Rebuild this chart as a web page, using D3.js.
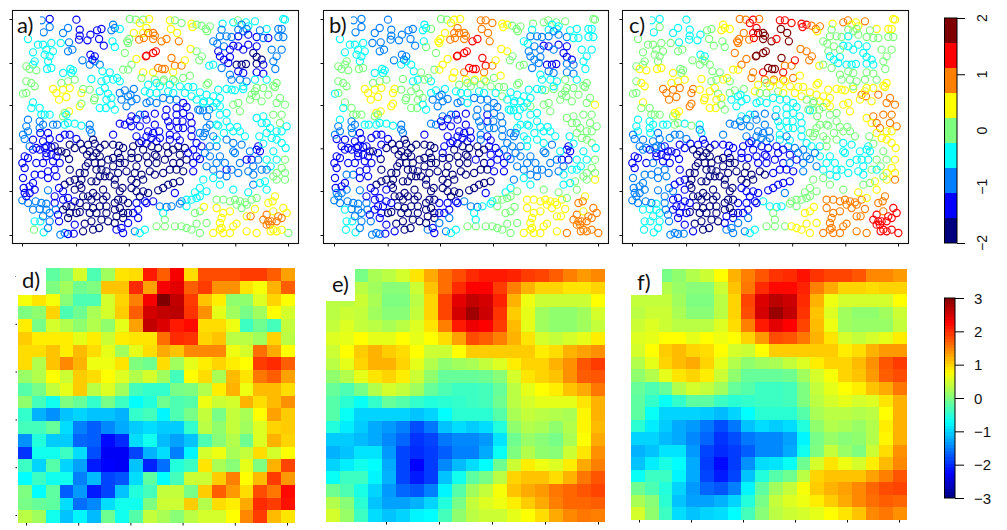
<!DOCTYPE html>
<html><head><meta charset="utf-8"><script src="https://cdn.jsdelivr.net/npm/d3@7"></script>
<style>html,body{margin:0;padding:0;background:#fff}svg{display:block}</style></head><body>
<svg id="c" width="1007" height="530"></svg>
<script>
// Sites: [easting, northing, a, b, c] where a,b,c are colour-class numbers -4..4
const bandTop=[[126,62,-2,-2,-1],[150,58,-3,-2,-1],[132,98,-2,-2,-1],[150,82,-2,-2,0],[85,118,-1,-1,0],[190,100,-2,-2,-1],[205,85,-2,-2,-1],[230,60,-3,-2,-1],[240,90,-3,-2,-1],[240,108,-3,-2,-1],[238,120,-3,-2,-1],[263,122,-3,-2,-1],[272,105,-3,-2,-1],[292,92,-3,-2,0],[305,88,-3,-2,0],[298,118,-3,-2,0],[312,138,-3,-2,0],[340,75,-2,-1,1],[335,92,-2,-1,1],[345,85,-2,-1,1],[360,88,-1,0,1],[338,125,-1,-1,0],[345,142,-1,0,0],[390,58,0,0,2],[408,60,0,0,2],[420,70,1,1,3],[430,60,0,1,3],[448,58,1,1,2],[440,85,1,2,3],[430,100,1,2,3],[402,100,1,1,2],[445,100,2,2,4],[460,100,2,2,4],[465,108,2,2,4],[418,120,2,2,2],[432,115,2,2,3],[382,125,0,1,2],[388,118,0,1,2],[460,118,2,2,4],[485,125,2,3,4],[500,118,2,3,3],[510,62,1,2,3],[525,62,0,2,3],[545,70,0,2,3],[513,88,1,2,4],[532,100,1,2,4],[537,125,2,2,4],[575,72,1,1,3],[578,82,1,1,3],[590,75,0,1,3],[605,78,0,0,2],[618,88,0,0,2],[630,80,0,0,2],[622,95,0,0,1],[668,72,-1,0,1],[700,68,-1,0,2],[714,62,0,0,2],[738,68,-1,0,1],[745,80,-1,-1,1],[765,65,-1,0,2],[725,75,-2,-1,1],[740,88,-2,-1,0],[715,90,-2,-1,0],[730,95,-2,-2,0],[665,90,-2,-1,0],[660,110,-2,-2,0],[680,110,-2,-2,0],[695,112,-2,-2,0],[715,110,-3,-2,-1],[745,105,-3,-2,0],[770,112,-3,-2,0],[790,115,-2,-1,0],[805,115,-3,-1,0],[835,88,-2,-1,1],[845,88,-2,-1,1],[855,60,-1,0,1],[850,58,-1,0,1],[800,88,-1,-1,1],[780,92,-2,-1,0],[835,112,-2,-1,0],[850,112,-2,-1,0]];
const bandUpper=[[115,135,-1,-1,0],[130,135,-1,-1,0],[100,158,-1,-1,0],[140,150,-1,-1,0],[155,130,-1,-1,0],[160,155,-1,-1,0],[135,165,-1,-1,0],[150,170,-1,-1,0],[145,185,-1,-1,0],[105,185,-1,0,0],[100,195,-1,0,0],[155,205,-1,0,1],[142,208,-1,0,1],[80,200,0,0,0],[90,208,0,0,1],[110,212,0,0,1],[183,130,-1,-2,0],[208,128,-2,-2,-1],[205,155,-2,-2,0],[218,150,-2,-2,0],[248,182,-2,-2,0],[270,195,-2,-1,0],[285,185,-2,-1,0],[272,165,-3,-2,-1],[285,170,-3,-2,-1],[278,180,-3,-2,0],[300,195,-2,-1,0],[308,215,-1,-1,0],[190,220,-1,-1,1],[212,208,-1,-1,0],[220,212,-1,-1,0],[215,220,-1,-1,0],[275,238,-1,0,1],[305,245,-1,-1,0],[320,240,-1,-1,0],[340,240,-1,0,1],[352,235,-1,0,1],[360,245,-1,-1,0],[330,218,-1,0,0],[370,210,0,0,1],[385,210,0,1,1],[375,160,0,0,2],[385,130,0,1,2],[395,195,0,1,2],[410,178,1,1,2],[440,168,3,3,4],[438,170,3,3,4],[460,160,3,3,4],[468,155,3,3,4],[430,218,1,1,2],[460,218,1,2,3],[475,205,2,3,4],[487,208,2,3,4],[495,208,2,3,4],[515,175,2,3,4],[525,198,2,3,2],[545,198,2,2,2],[520,218,1,2,3],[555,182,1,1,3],[425,235,0,1,2],[465,240,0,1,2],[492,240,0,1,2],[520,240,0,1,2],[572,148,1,1,2],[590,155,0,1,2],[606,170,0,0,2],[598,182,0,0,2],[628,198,-1,0,1],[640,195,-1,0,0],[640,125,-2,-1,0],[652,132,-2,-1,0],[655,155,-3,-2,0],[672,140,-2,-2,0],[672,180,-3,-2,-1],[690,172,-3,-2,-1],[685,190,-3,-2,-1],[665,205,-2,-2,0],[710,195,-4,-3,-1],[725,195,-4,-3,-1],[738,193,-4,-3,-1],[760,160,-4,-3,-1],[770,172,-4,-3,-1],[785,180,-4,-3,-1],[770,192,-4,-2,-1],[790,195,-3,-2,-1],[826,208,-2,-1,0],[715,140,-3,-3,-1],[745,135,-3,-3,-1],[730,150,-3,-2,-1],[700,138,-3,-3,-1],[690,225,-2,-1,0],[695,240,-2,-1,0],[740,245,-2,-1,0],[715,215,-3,-2,0],[730,220,-3,-2,0],[815,150,-2,-1,0],[845,150,-2,-1,0],[830,170,-2,-1,0],[820,185,-2,-1,0],[770,218,-3,-2,0],[790,222,-3,-2,0],[765,240,-1,0,0],[830,250,0,0,1]];
const bandMiddle=[[80,245,0,0,0],[95,250,0,0,1],[105,260,0,0,1],[70,282,0,-1,0],[80,280,0,0,0],[100,308,-1,0,1],[95,325,-1,-1,0],[120,325,-1,0,0],[125,345,-1,0,0],[160,268,1,1,2],[185,250,0,0,1],[205,245,0,0,1],[225,240,0,0,1],[170,280,1,1,2],[190,270,1,1,2],[210,265,1,1,2],[178,300,1,1,2],[200,292,1,1,2],[245,280,1,1,2],[250,268,0,1,2],[270,270,0,0,1],[285,295,0,0,1],[283,302,0,0,1],[240,320,1,1,2],[245,312,0,1,2],[208,335,1,1,1],[195,340,0,1,1],[300,275,-1,0,1],[315,265,-1,0,1],[325,282,-1,0,0],[335,295,-1,0,1],[320,300,-1,0,1],[300,325,-1,0,1],[318,325,-1,0,1],[335,315,-1,-1,0],[345,330,-1,-1,0],[360,280,-2,-1,0],[375,272,-2,-1,0],[402,268,-2,-1,0],[385,290,-2,-2,-1],[365,300,-2,-2,-1],[380,320,-2,-2,-1],[395,305,-2,-2,-1],[410,298,-2,-2,-1],[392,285,-2,-2,-1],[435,275,-1,-1,1],[445,255,-1,0,1],[470,250,-1,0,0],[490,245,0,0,1],[525,245,0,0,1],[550,235,0,0,2],[570,228,0,1,1],[540,260,-1,0,1],[565,262,-1,0,1],[580,262,-1,0,1],[450,280,-1,-1,0],[470,280,-1,-1,0],[505,275,-1,-1,0],[520,280,-1,-1,1],[555,280,-1,-1,1],[575,290,-1,0,1],[490,295,-2,-2,-1],[510,300,-2,-2,-1],[530,300,-2,-2,-1],[550,310,-3,-2,-1],[560,322,-3,-2,-1],[450,305,-2,-2,-1],[470,310,-2,-1,-1],[440,310,-2,-2,-1],[620,255,0,0,1],[625,250,0,0,1],[600,278,-1,-1,1],[620,285,-1,-1,1],[640,290,-1,-1,1],[612,305,-1,-1,0],[630,305,-1,-1,1],[650,310,-1,-1,1],[640,322,-1,-1,0],[595,330,-2,-1,0],[610,332,-2,-1,0],[628,330,-2,-1,0],[660,295,-1,-1,1],[680,268,-1,-1,1],[705,272,-1,0,1],[730,268,-1,0,1],[755,285,0,0,2],[765,275,0,0,1],[768,290,0,0,2],[790,265,0,0,1],[805,285,0,0,2],[820,258,0,0,1],[825,262,0,0,1],[840,295,0,0,2],[855,315,0,1,2],[830,310,0,0,2],[785,305,0,0,1],[700,315,0,0,1],[715,310,0,0,1],[660,320,-1,0,1],[750,300,0,0,1],[680,340,-1,-1,0],[720,335,0,0,1]];
const bandLower=[[85,360,-2,-1,-1],[80,380,-2,-2,-1],[85,395,-2,-2,-1],[120,365,-2,-2,-1],[120,385,-2,-2,-1],[122,400,-3,-2,-1],[135,345,-1,0,0],[150,345,-1,0,0],[160,375,-2,-1,-1],[172,375,-2,-1,-1],[190,350,0,0,0],[200,345,-1,0,1],[205,370,-1,-1,0],[195,375,-1,-1,0],[225,372,-1,-1,-1],[245,378,-1,-1,0],[270,375,-2,-2,-1],[275,400,-2,-2,-1],[270,390,-2,-2,-2],[340,405,-3,-3,-2],[75,418,-2,-3,-2],[70,405,-2,-2,-2],[100,450,-3,-3,-2],[110,445,-3,-3,-2],[130,425,-3,-3,-2],[150,418,-3,-3,-2],[155,442,-3,-3,-2],[175,455,-4,-4,-3],[185,455,-4,-4,-3],[195,405,-3,-3,-2],[210,405,-3,-3,-2],[180,415,-3,-3,-2],[230,418,-3,-3,-2],[210,435,-4,-3,-3],[165,440,-4,-3,-3],[140,460,-3,-3,-3],[242,432,-4,-4,-3],[265,435,-4,-4,-3],[280,420,-4,-4,-3],[285,432,-4,-4,-3],[300,445,-4,-4,-4],[270,455,-4,-4,-4],[290,460,-4,-4,-4],[340,435,-4,-4,-3],[358,438,-4,-4,-3],[355,460,-4,-4,-3],[370,445,-4,-4,-3],[400,440,-4,-3,-3],[418,430,-4,-3,-3],[395,460,-4,-3,-3],[440,432,-3,-3,-2],[360,372,-3,-2,-2],[375,375,-3,-2,-2],[395,350,-3,-2,-1],[410,358,-3,-3,-2],[395,380,-3,-3,-2],[390,365,-3,-3,-2],[435,345,-3,-3,-2],[465,342,-3,-3,-2],[497,350,-3,-2,-2],[445,395,-3,-3,-2],[460,400,-3,-3,-2],[478,395,-3,-3,-2],[470,425,-3,-3,-2],[455,415,-3,-3,-2],[480,415,-3,-3,-2],[410,410,-3,-3,-2],[425,425,-3,-3,-3],[440,410,-3,-3,-2],[455,440,-4,-4,-3],[475,445,-4,-4,-3],[505,365,-3,-2,-1],[510,380,-3,-2,-1],[510,405,-3,-2,-1],[510,420,-3,-2,-1],[530,345,-3,-3,-1],[530,365,-3,-3,-1],[550,340,-3,-2,-1],[570,350,-3,-2,-1],[575,370,-3,-2,-1],[550,385,-3,-2,-1],[535,385,-3,-2,-1],[548,365,-3,-2,-1],[575,390,-3,-2,-1],[575,410,-3,-2,-1],[535,440,-4,-3,-2],[555,445,-4,-3,-2],[540,422,-3,-3,-1],[520,450,-4,-4,-3],[600,332,-2,-1,-1],[622,350,-2,-1,0],[630,375,-2,-1,0],[620,385,-2,-1,0],[615,400,-2,-2,0],[610,410,-2,-2,0],[600,400,-2,-2,0],[590,430,-3,-2,-1],[605,440,-3,-2,-1],[630,440,-2,-2,-1],[650,440,-2,-1,0],[650,420,-1,-1,0],[655,378,-1,-1,0],[680,365,-1,-1,0],[690,382,-1,-1,0],[712,382,-1,-1,0],[700,395,-1,-1,0],[660,345,-1,-1,0],[720,395,-1,-1,0],[770,355,-1,0,1],[790,350,-1,0,2],[785,370,-1,0,1],[820,345,0,0,2],[845,345,0,0,2],[800,370,-1,0,2],[810,385,-1,0,2],[840,370,0,0,2],[860,380,-1,0,2],[830,395,-1,0,1],[815,415,-1,0,1],[778,410,-1,-1,0],[830,420,-1,0,1],[845,430,-1,0,1],[857,445,-1,-1,1],[725,435,-2,-2,-1],[770,450,-3,-3,-1],[780,455,-3,-3,-1],[750,455,-2,-1,-1],[820,455,-1,-1,0],[700,455,-2,-2,-1]];
const bandDeep=[[68,490,-3,-3,-3],[75,505,-3,-3,-3],[85,475,-3,-3,-3],[105,525,-3,-2,-2],[125,525,-3,-2,-2],[70,535,-3,-3,-2],[145,515,-3,-3,-2],[165,510,-3,-3,-2],[145,535,-3,-3,-2],[110,490,-3,-3,-3],[130,490,-3,-3,-2],[160,485,-3,-3,-3],[140,470,-3,-3,-3],[72,565,-3,-3,-2],[75,580,-3,-2,-2],[90,580,-3,-2,-2],[105,570,-3,-2,-2],[145,572,-2,-2,-2],[178,565,-3,-3,-2],[190,575,-3,-3,-2],[208,478,-4,-4,-3],[210,545,-4,-4,-3],[195,555,-4,-4,-3],[240,555,-4,-4,-4],[245,565,-4,-4,-4],[258,500,-4,-4,-4],[262,465,-4,-4,-4],[255,520,-4,-4,-4],[280,470,-4,-4,-4],[300,470,-4,-4,-4],[290,510,-4,-4,-4],[305,510,-4,-4,-4],[320,515,-4,-4,-4],[300,530,-4,-4,-4],[315,530,-4,-4,-4],[275,545,-4,-4,-4],[290,545,-4,-4,-4],[280,580,-4,-4,-4],[290,590,-4,-4,-4],[310,570,-4,-4,-4],[340,475,-4,-4,-4],[360,490,-4,-4,-4],[375,490,-4,-4,-4],[360,475,-4,-4,-4],[340,500,-4,-4,-4],[345,540,-4,-4,-4],[368,565,-4,-4,-4],[360,575,-4,-4,-4],[380,515,-4,-4,-4],[395,475,-4,-4,-3],[415,475,-4,-4,-3],[440,470,-4,-4,-3],[465,465,-4,-4,-3],[395,540,-4,-4,-4],[425,525,-4,-4,-4],[430,540,-4,-4,-4],[450,515,-4,-4,-4],[465,525,-4,-4,-4],[410,575,-4,-4,-3],[430,575,-4,-4,-3],[445,580,-4,-4,-3],[475,572,-4,-4,-3],[490,565,-4,-4,-3],[505,555,-4,-4,-3],[520,550,-4,-4,-3],[540,545,-4,-4,-3],[510,510,-4,-4,-3],[520,490,-4,-4,-3],[540,490,-4,-3,-2],[530,510,-4,-4,-3],[495,480,-4,-3,-3],[550,515,-4,-3,-3],[525,580,-3,-3,-2],[580,490,-3,-3,-2],[590,470,-3,-3,-2],[600,478,-3,-2,-2],[580,515,-3,-3,-2],[620,500,-2,-2,-2],[630,470,-2,-2,-1],[640,510,-2,-2,-1],[660,525,-2,-2,-1],[680,510,-3,-2,-1],[680,530,-2,-2,-1],[705,460,-2,-2,-1],[720,490,-2,-2,-1],[745,515,-2,-2,-1],[760,525,-2,-1,-1],[785,510,-2,-1,0],[755,480,-3,-3,-1],[775,480,-2,-3,-1],[800,480,-1,-1,0],[812,500,-1,-1,0],[855,480,0,0,1],[830,520,0,0,1],[855,520,0,0,1],[830,540,0,0,1],[855,540,0,1,2],[795,545,-1,0,1],[760,555,-2,-1,0],[780,550,-1,-1,0],[610,540,-1,-2,0],[640,535,-1,-1,0],[660,555,-1,-1,0],[600,565,-1,-1,0],[620,575,-1,0,0],[585,578,-1,-1,0],[700,570,-1,0,0],[745,578,-1,0,1],[800,570,-1,0,1]];
const bandBottom=[[68,602,-2,-2,-2],[85,610,-2,-2,-2],[108,605,-2,-2,-2],[120,628,-2,-2,-1],[140,612,-2,-2,-1],[150,640,-2,-2,-1],[165,610,-3,-2,-2],[168,630,-2,-2,-2],[105,665,-1,-1,-1],[122,665,-1,-1,-1],[103,690,0,-1,-1],[132,698,-1,-1,-1],[145,685,-2,-2,-1],[150,665,-2,-2,-1],[178,665,-3,-2,-2],[182,705,-2,-2,-2],[195,700,-2,-2,-2],[205,703,-3,-2,-2],[222,702,-3,-3,-2],[200,620,-4,-3,-3],[210,640,-4,-3,-3],[205,655,-4,-3,-3],[225,605,-3,-3,-3],[240,637,-4,-4,-4],[255,672,-4,-4,-4],[275,665,-4,-4,-4],[270,640,-4,-4,-4],[298,685,-4,-4,-4],[290,640,-4,-4,-4],[310,600,-4,-4,-4],[305,660,-4,-4,-4],[320,640,-4,-4,-4],[345,610,-4,-4,-4],[345,630,-4,-4,-4],[360,625,-4,-4,-4],[370,640,-4,-4,-4],[350,650,-4,-4,-3],[370,655,-4,-4,-3],[410,610,-3,-3,-3],[385,610,-4,-3,-3],[400,640,-3,-3,-3],[415,655,-3,-2,-2],[435,605,-3,-3,-3],[350,690,-3,-2,-2],[370,700,-3,-3,-2],[365,685,-3,-3,-2],[405,695,-2,-2,-2],[435,690,-1,-1,-1],[420,700,-1,-1,-1],[460,605,-3,-2,-1],[480,620,-2,-2,-1],[500,622,-2,-2,-1],[515,620,-2,-1,-1],[490,640,-1,-1,0],[495,660,0,-1,0],[470,680,0,0,0],[495,680,0,0,0],[525,680,0,0,0],[545,680,0,0,1],[575,690,0,0,1],[600,700,0,0,1],[620,670,0,0,1],[540,612,-2,-1,0],[560,620,-1,0,0],[575,600,-1,0,0],[590,595,-1,0,0],[585,640,0,0,1],[600,635,0,0,1],[612,622,1,0,1],[660,690,1,1,2],[665,685,1,1,2],[690,700,1,1,2],[710,672,1,1,2],[650,625,1,1,2],[665,655,1,1,2],[690,635,1,1,2],[670,600,0,1,2],[705,600,0,1,2],[720,605,0,1,2],[735,608,0,1,2],[755,600,0,1,2],[770,595,0,0,1],[725,625,0,1,2],[740,650,1,1,2],[752,650,2,1,2],[765,628,1,1,2],[740,695,1,1,2],[770,700,1,2,2],[825,590,1,1,2],[818,605,1,2,2],[850,625,1,2,3],[860,640,1,2,3],[800,645,2,2,3],[820,635,1,1,2],[805,665,2,2,3],[815,665,2,2,3],[830,665,2,2,3],[845,655,2,2,3],[810,675,2,2,3],[820,690,1,2,3],[865,700,0,2,3],[830,695,1,2,3],[812,695,1,2,3]];
// Further sites read from the densest clusters
const bandDenseWest=[[140,440,-3,-3,-2],[120,450,-3,-3,-3],[135,445,-3,-3,-2],[90,440,-2,-3,-2],[75,470,-3,-3,-3],[170,470,-3,-3,-3],[155,465,-3,-3,-3],[180,490,-3,-3,-3],[170,530,-3,-3,-2],[210,510,-4,-4,-3],[225,540,-4,-4,-3],[240,520,-4,-4,-4],[265,490,-4,-4,-4],[285,490,-4,-4,-4],[305,490,-4,-4,-4],[325,480,-4,-4,-4],[330,530,-4,-4,-4],[345,555,-4,-4,-4],[355,520,-4,-4,-4],[355,600,-4,-4,-4],[370,600,-4,-4,-4],[320,590,-4,-4,-4],[265,590,-4,-4,-4],[275,600,-4,-4,-4],[260,620,-4,-4,-4],[300,620,-4,-4,-4],[320,620,-4,-4,-4],[280,625,-4,-4,-4],[240,610,-4,-3,-3],[250,590,-4,-4,-4],[225,570,-4,-3,-3],[245,540,-4,-4,-4],[345,670,-4,-4,-3],[325,665,-4,-4,-4],[280,690,-4,-4,-4],[250,695,-4,-3,-3],[225,675,-3,-3,-3],[230,640,-4,-4,-3],[215,620,-4,-3,-3],[190,630,-4,-3,-3],[175,645,-3,-3,-2],[190,600,-3,-3,-3],[165,590,-3,-3,-2],[205,595,-3,-3,-3],[140,630,-2,-2,-1],[130,650,-2,-2,-1],[125,610,-2,-2,-2],[100,630,-2,-1,-1],[80,590,-3,-2,-2],[90,560,-3,-3,-2],[100,550,-3,-3,-2],[145,400,-3,-3,-2],[130,375,-2,-2,-1],[100,420,-3,-3,-2],[200,460,-4,-3,-3],[225,445,-4,-4,-3],[250,450,-4,-4,-4],[315,435,-4,-4,-3]];
const bandDenseEast=[[405,520,-4,-4,-4],[410,550,-4,-4,-4],[395,565,-4,-4,-3],[420,590,-4,-4,-3],[440,610,-3,-3,-3],[415,630,-3,-3,-3],[385,640,-4,-3,-3],[385,670,-3,-2,-2],[470,490,-4,-4,-3],[490,520,-4,-4,-3],[410,500,-4,-4,-4],[445,490,-4,-4,-3],[430,450,-4,-4,-3],[470,470,-4,-4,-3],[500,440,-4,-4,-3],[505,460,-4,-4,-3],[560,480,-4,-3,-3],[565,460,-3,-3,-2],[580,450,-3,-2,-2],[540,465,-4,-3,-3],[615,460,-2,-2,-2],[660,470,-2,-2,-1],[675,490,-2,-2,-1],[650,490,-2,-2,-1],[695,510,-2,-2,-1],[715,520,-2,-2,-1],[740,480,-3,-2,-1],[760,500,-2,-2,-1],[775,440,-3,-3,-1],[800,510,-2,-1,-1],[830,480,-1,-1,0],[820,530,0,0,0],[845,505,0,0,1],[650,375,-1,-1,0],[672,400,-1,-1,0],[640,410,-2,-1,0],[680,420,-2,-1,0],[700,430,-2,-1,-1],[735,410,-1,-1,0],[800,400,-1,0,1],[845,395,-1,0,1],[790,432,-1,-1,0],[530,325,-3,-2,-1],[500,330,-3,-2,-1],[530,410,-3,-3,-2],[420,380,-3,-3,-2],[440,360,-3,-3,-2],[465,375,-3,-3,-2],[420,345,-2,-2,-1],[770,140,-3,-3,-1],[690,150,-3,-2,0],[660,170,-3,-2,-1],[720,240,-2,-1,0],[730,260,-1,-1,0],[770,265,0,0,1],[800,240,-1,-1,0],[695,270,-1,-1,1],[655,270,-1,-1,1],[610,310,-1,-1,0],[590,300,-1,-1,0],[480,260,-1,0,1],[510,255,-1,0,1],[545,605,-2,-1,0],[560,600,-1,0,0],[600,590,-1,0,0],[650,600,0,1,2],[690,605,0,1,2],[740,615,0,1,2],[710,615,0,1,2],[670,640,1,1,2],[660,670,1,1,2],[700,680,1,1,2],[560,685,0,0,1],[590,672,0,0,1],[640,700,1,1,2],[670,700,1,1,2],[805,610,1,2,2],[835,650,2,2,3],[790,660,2,2,3],[845,690,1,2,3],[800,675,2,2,3]];

const heatD=[
[.3,.3,-.2,0,.5,-.3,.2,.9,.95,2.1,1.7,2.3,.95,1.8,1.8,1.8,1.9,1.9,1.7,1.3],
[.3,.3,0,.2,-.1,0,1.1,1.1,2,1.3,2.3,2.4,1.7,1.9,1.4,1.4,.9,.7,1.2,1.7],
[.7,.9,.7,.05,-.3,-.3,.5,1,1.5,2.3,3,2.6,1.9,1.1,.85,.1,.1,.55,1,.75],
[0,.1,1,-.3,-.1,.25,.5,1.05,1.7,2.5,2.6,2.65,1.95,1.4,.6,.2,-.05,.2,.75,.5],
[.85,-.05,.5,.3,.1,.3,.1,.6,1.3,2.6,2.45,2.1,2.2,.95,.95,.65,-.4,-.1,-.35,.4],
[1.05,.85,.85,.85,.6,.85,.45,.85,.9,.9,1.6,2,1.95,1,1.1,.35,.35,.2,1,.35],
[.95,.95,1.1,.85,1.15,.95,.6,.2,.6,.95,1.25,1.1,1.45,1.45,1.45,.65,.5,1.6,1.25,.75],
[.95,.3,1.1,1.45,1.2,.65,.65,.9,0,-.1,.95,.2,.6,.85,1,.85,.75,1.9,2,1.7],
[.15,.3,.75,.45,1.05,.95,.75,.55,.3,.5,.2,-.35,.75,.95,.25,1.15,.9,1.55,1.7,1.3],
[-.25,-.05,.4,.6,1.05,.35,.55,.2,-.35,-.45,-.45,-.05,0,.3,.85,1.2,.65,1.15,1.15,.95],
[.1,-.35,-.65,0,-.15,-.45,-.05,-.4,-.75,-.55,-.1,-.3,-.25,.65,.45,.5,1.2,.95,1.15,1.4],
[-.45,-1.2,-1.4,-1.1,-1,-1.1,-1.1,-1.2,-.45,-.35,-.8,-.3,-.05,.4,-.05,.4,.25,.75,1.3,1.05],
[-.35,-.35,-.15,-.95,-1.5,-1.7,-1.45,-1.25,-1.05,-.95,-1.05,-1.05,-.45,.35,.1,.4,.2,.55,1,1.05],
[-1.4,-.55,-1.05,-1.05,-1.65,-1.7,-2.2,-2,-.95,-.65,-1.15,-1.3,-1.1,-.3,.05,.3,-.1,.55,1.2,1],
[-1.95,-.65,-.65,-.4,-.95,-1.8,-2.3,-2.3,-1.85,-1.2,-.95,-1.5,-.8,.5,.65,.25,.4,.95,.5,.75],
[-.4,-1,-.25,-1,-1.3,-2.1,-2.25,-2.3,-1.1,-2.05,-1.6,-.55,-.4,.9,.25,.05,.6,0,1.2,1.85],
[-.75,-.4,-.65,-.65,-1.5,-1.15,-1.85,-1.75,-.95,-.2,-.75,-.35,.45,.45,1.05,1.5,.75,1.15,1.9,1.35],
[0,-.75,-.2,-1.7,-1.35,-2.1,-1.85,-1.1,-.55,-.35,.4,.4,-.05,1.05,1.7,1.35,.95,1.8,1.55,2.2],
[-.05,-.15,-.2,-.95,-1.6,-1.45,-.95,-.65,-.65,0,.45,.45,1.05,.3,.95,.85,1.25,2,1.9,2.15],
[.35,.2,-.65,-1.1,-.8,-1.15,-.1,-.65,-.25,.4,.25,.05,.35,.5,.5,.75,1.45,1.9,1.15,.9]];
const heatE=[
[0,0,-.05,.25,.35,.5,.9,1.25,1.6,1.8,2,2.1,2.1,2.05,1.9,1.85,1.7,1.5,1.35,1.45],
[.2,.2,.35,.2,.05,.05,.45,1.1,1.6,2,2.25,2.25,1.9,1.5,1.2,1,1,.9,.9,1],
[.35,.35,.45,.25,0,0,.35,1,1.85,2.4,2.6,2.5,2.05,1.2,.65,.45,.45,.45,.45,.75],
[.35,.45,.4,.2,.05,.05,.4,1,1.85,2.5,2.8,2.55,1.95,1.05,.6,.2,.1,.1,.2,.5],
[.4,.55,.4,.35,.25,.35,.55,.9,1.5,2.1,2.35,2.25,1.9,1.15,.6,.2,.1,.1,.2,.4],
[.55,.6,.75,.6,.6,.75,.6,.75,.95,1.3,1.8,1.7,1.5,1.2,.9,.5,.4,.5,.6,.85],
[.45,.75,1.05,1.2,1.05,.95,.75,.45,.45,.75,1.05,1.05,1.05,1.05,1.05,.85,.95,1.2,1.3,1.4],
[.35,.6,1,1.2,1.2,1,.6,.3,.1,.2,.25,.4,.55,.85,1,1,1.2,1.4,1.75,1.9],
[.1,.3,.6,.9,1,.85,.45,.1,-.15,-.15,-.15,-.1,.05,.5,.9,1,1.1,1.4,1.7,1.75],
[-.15,-.3,-.05,.3,.5,.4,.2,-.15,-.3,-.4,-.4,-.35,-.15,.35,.6,.75,.85,1.1,1.25,1.55],
[-.25,-.5,-.7,-.45,-.15,-.25,-.45,-.55,-.5,-.45,-.4,-.35,-.1,.35,.5,.6,.6,.6,.9,1.2],
[-.25,-.7,-1,-1,-1,-1,-1.1,-1,-.75,-.5,-.5,-.5,-.25,.25,.4,.35,.3,.25,.8,1.2],
[-.55,-.85,-1.05,-1.25,-1.35,-1.5,-1.8,-1.55,-1.1,-.95,-1.05,-.95,-.55,.1,.3,.25,.1,.3,.8,1.15],
[-1.05,-1.05,-1.15,-1.25,-1.45,-1.65,-1.95,-1.85,-1.55,-1.45,-1.45,-1.35,-.9,-.1,.15,.05,-.05,.25,.75,1.25],
[-1.2,-1.1,-.9,-.9,-1.35,-1.85,-2,-1.9,-1.7,-1.5,-1.5,-1.25,-.7,0,.3,.1,.05,.45,.9,1.4],
[-1,-.85,-.65,-.75,-1.25,-1.85,-2.25,-1.9,-1.45,-1.15,-.95,-.75,-.1,.45,.85,.65,.55,.85,1.25,1.5],
[-.7,-.4,-.4,-.8,-1.2,-1.85,-2.1,-1.9,-1.1,-.65,-.2,-.05,.35,1,1.1,1.1,.95,1.2,1.55,1.75],
[-.1,-.3,-.6,-1,-1.35,-1.65,-1.75,-1.5,-.8,-.25,.2,.4,.7,1.1,1.25,1.35,1.55,1.65,1.75,1.85],
[.3,.05,-.5,-1.1,-1.3,-1.3,-1.2,-1,-.55,-.05,.4,.55,.65,.85,1.05,1.25,1.5,1.65,1.65,1.7],
[.5,.15,-.4,-.95,-1.1,-1,-.8,-.75,-.35,.1,.35,.45,.45,.6,.75,.95,1.25,1.45,1.55,1.5]];
const heatF=[
[0,0,-.05,.1,.3,.45,.75,1.2,1.5,1.75,1.95,2,2.15,1.95,1.85,1.85,1.75,1.45,1.45,1.35],
[.2,.2,.3,.15,.05,.05,.45,1.1,1.55,2,2.2,2.2,2.05,1.5,1.25,1,1,.95,1,1],
[.4,.4,.4,.2,0,0,.35,1,1.85,2.45,2.65,2.55,2,1.2,.65,.5,.5,.5,.5,.75],
[.35,.45,.45,.25,.05,.05,.35,1,1.8,2.5,2.85,2.6,1.95,1.1,.55,.2,.1,.1,.2,.45],
[.45,.55,.45,.35,.35,.35,.55,.95,1.5,2.1,2.4,2.25,1.85,1.15,.65,.2,.15,.15,.15,.4],
[.55,.6,.75,.75,.6,.75,.65,.75,1,1.35,1.8,1.75,1.55,1.2,.9,.5,.4,.5,.6,.85],
[.5,.75,1.05,1.15,1,.95,.75,.5,.45,.75,1.05,1.05,1.05,1.05,1.05,.85,.95,1.2,1.35,1.35],
[.3,.6,1,1.15,1.25,1,.6,.3,.1,.2,.25,.4,.55,.85,1,1,1.15,1.4,1.75,1.9],
[.1,.3,.6,.9,1,.85,.45,.1,-.15,-.15,-.15,-.1,.2,.5,.7,1,1.1,1.35,1.7,1.8],
[-.15,-.3,-.15,.3,.5,.4,.2,-.15,-.25,-.4,-.4,-.35,0,.4,.6,.75,.85,1.1,1.25,1.55],
[-.2,-.45,-.7,-.45,-.2,-.2,-.4,-.5,-.45,-.4,-.4,-.35,0,.35,.5,.6,.5,.55,.9,1.2],
[-.2,-.7,-1,-1,-1,-1.05,-1.15,-1,-.75,-.5,-.5,-.5,-.25,.25,.35,.35,.3,.35,.75,1.2],
[-.5,-.85,-1.05,-1.25,-1.35,-1.55,-1.8,-1.55,-1.1,-.95,-1.05,-.95,-.55,.1,.3,.25,.15,.3,.85,1.2],
[-1,-1,-1.15,-1.25,-1.45,-1.65,-1.95,-1.8,-1.55,-1.45,-1.45,-1.3,-.8,-.05,.15,.05,.1,.3,.8,1.2],
[-1.2,-1.1,-.9,-.9,-1.35,-1.85,-2,-1.9,-1.7,-1.45,-1.45,-1.25,-.65,0,.4,.15,0,.45,.95,1.4],
[-1.1,-.85,-.6,-.75,-1.25,-1.9,-2.2,-1.9,-1.4,-.95,-.9,-.7,-.1,.5,.9,.65,.5,.85,1.15,1.45],
[-.7,-.4,-.4,-.8,-1.25,-1.85,-2.1,-1.85,-1.1,-.55,-.25,-.1,.35,1,1.1,1.1,1.1,1.3,1.5,1.75],
[-.1,-.3,-.55,-1,-1.35,-1.65,-1.75,-1.5,-.8,-.2,.2,.4,.7,1.05,1.2,1.3,1.45,1.65,1.8,1.85],
[.25,.05,-.5,-1.1,-1.3,-1.3,-1.2,-1,-.55,-.05,.4,.55,.65,.85,1.05,1.25,1.45,1.6,1.7,1.65],
[.5,.1,-.4,-.95,-1.1,-1,-.95,-.75,-.35,.05,.35,.45,.5,.6,.75,.9,1.1,1.45,1.55,1.4]];

const siteTicksX=[67,229,387,547,706,864], siteTicksY=[58,190,316,446,574,706];
const classColors=["#00007f","#0000ff","#007fff","#00ffff","#7fff7f","#ffff00","#ff7f00","#ff0000","#7f0000"];
const classTicks=[2,1,0,-1,-2], classTicksMarked=[2,1,-2];
const heatTicks=[3,2,1,0,-1,-2,-3];
const jetStops=[-3,-2.25,-1.5,-.75,0,.75,1.5,2.25,3];
const jetColors=["#00007f","#0000ff","#007fff","#00ffff","#7fff7f","#ffff00","#ff7f00","#ff0000","#7f0000"];

const sites=[...bandTop,...bandUpper,...bandMiddle,...bandLower,...bandDeep,...bandBottom,...bandDenseWest,...bandDenseEast];
const svg=d3.select("#c");
const INK="#111";
const jet=d3.scaleLinear().domain(jetStops).range(jetColors).clamp(true);
const classIndex=d3.scaleLinear().domain([-4,4]).range([0,8]);

function styleAxis(g){g.select(".domain").remove();g.selectAll("line").attr("stroke",INK);g.selectAll("text").remove();}

function label(txt,x,y,box){
  svg.append("rect").attr("x",box[0]).attr("y",box[1]).attr("width",box[2]).attr("height",box[3]).attr("fill","#fff");
  svg.append("text").text(txt).attr("x",x).attr("y",y).attr("font-family","Lato, 'Open Sans', sans-serif").attr("font-size",22).attr("fill","#111");
}

function scatter(cfg){
  const x=d3.scaleLinear().domain([67,864]).range(cfg.xr);
  const y=d3.scaleLinear().domain([58,706]).range([19,235]);
  svg.append("g").attr("fill","none").attr("stroke-width",1.15).selectAll("circle").data(sites).join("circle")
    .attr("cx",d=>x(d[0])).attr("cy",d=>y(d[1])).attr("r",3.6)
    .attr("stroke",d=>classColors[classIndex(d[cfg.col])]);
  svg.append("rect").attr("x",cfg.frame[0]+.5).attr("y",10.5).attr("width",cfg.frame[1]-cfg.frame[0]).attr("height",233).attr("fill","none").attr("stroke",INK).attr("stroke-width",1.1);
  svg.append("g").attr("transform","translate(0,244)").call(d3.axisBottom(x).tickValues(siteTicksX).tickSize(2.5).tickFormat("")).call(styleAxis);
  svg.append("g").attr("transform",`translate(${cfg.frame[0]},0)`).call(d3.axisLeft(y).tickValues(siteTicksY).tickSize(2.5).tickFormat("")).call(styleAxis);
  label(cfg.txt,cfg.lx,33,[cfg.frame[0]+1,11,27,25]);
}
scatter({col:2,xr:[22,288],frame:[12,298],txt:"a)",lx:17});
scatter({col:3,xr:[334,598],frame:[323,608],txt:"b)",lx:329});
scatter({col:4,xr:[632,898],frame:[622,908],txt:"c)",lx:629});

function heat(cfg){
  const x=d3.scaleBand().domain(d3.range(20)).range(cfg.xr);
  const y=d3.scaleBand().domain(d3.range(20)).range([cfg.yr[0],cfg.yr[1]]);
  const g=svg.append("g").attr("shape-rendering","crispEdges");
  cfg.data.forEach((row,r)=>{
    g.selectAll(null).data(row).join("rect")
      .attr("x",(d,c)=>x(c)).attr("y",y(r)).attr("width",x.bandwidth()+.3).attr("height",y.bandwidth()+.3).attr("fill",d=>jet(d));
  });
  const tx=d3.scaleLinear().domain([0,5]).range(cfg.tx);
  const ax=svg.append("g").attr("transform",`translate(0,${cfg.yr[1]})`).call(d3.axisBottom(tx).ticks(5).tickSize(2.5).tickFormat("")).call(styleAxis);
  if(cfg.skipFirst) ax.selectAll(".tick").filter((d,i)=>i==0).remove();
  if(cfg.ty){
    const ty=d3.scaleLinear().domain([0,5]).range(cfg.ty);
    svg.append("g").attr("transform",`translate(${cfg.xr[0]-1},0)`).call(d3.axisLeft(ty).ticks(5).tickSize(1.5).tickFormat("")).call(styleAxis);
  }
  label(cfg.txt,cfg.lx,cfg.ly,cfg.box);
}
heat({data:heatD,xr:[18,295],yr:[268,523],tx:[26,287],ty:[276,515],txt:"d)",lx:22,ly:288,box:[16,266,30,29]});
heat({data:heatE,xr:[326,605],yr:[269,522],tx:[333,598],skipFirst:true,txt:"e)",lx:332,ly:292,box:[324,267,31,34]});
heat({data:heatF,xr:[631,907],yr:[269,520],tx:[639,899],txt:"f)",lx:637,ly:290,box:[629,267,33,28]});

// stepped colour key
const keyY=d3.scaleLinear().domain([2,-2]).range([18,243]);
const bins=d3.range(9).map(i=>[2-i*4/9,2-(i+1)*4/9,classColors[8-i]]);
svg.append("g").attr("shape-rendering","crispEdges").selectAll("rect").data(bins).join("rect")
  .attr("x",944.5).attr("width",12.5).attr("y",d=>keyY(d[0])).attr("height",d=>keyY(d[1])-keyY(d[0])).attr("fill",d=>d[2]);
svg.append("rect").attr("x",944.5).attr("y",18).attr("width",12.5).attr("height",225).attr("fill","none").attr("stroke","#000").attr("stroke-width",1);
const keyAxis=svg.append("g").attr("transform","translate(957,0)").call(d3.axisRight(keyY).tickValues(classTicksMarked).tickSize(8).tickFormat(""));
keyAxis.select(".domain").remove();keyAxis.selectAll("line").attr("stroke","#000");
svg.append("g").selectAll("text").data(classTicks).join("text")
  .text(d=>String(d).replace("-","\u2212"))
  .attr("text-anchor","middle").attr("font-family","'Liberation Sans',Arial,sans-serif").attr("font-size",14).attr("fill","#111")
  .attr("transform",d=>`translate(987,${keyY(d)}) rotate(-90)`);

// continuous colour key
const barY=d3.scaleLinear().domain([3,-3]).range([298,498]);
const steps=d3.range(64).map(i=>3-i*6/64);
svg.append("g").attr("shape-rendering","crispEdges").selectAll("rect").data(steps).join("rect")
  .attr("x",944.5).attr("width",10.5).attr("y",d=>barY(d)).attr("height",d=>barY(d-6/64)-barY(d)+.4).attr("fill",d=>jet(d-3/64));
svg.append("rect").attr("x",944.5).attr("y",298).attr("width",10.5).attr("height",200).attr("fill","none").attr("stroke","#000").attr("stroke-width",1);
const barAxis=svg.append("g").attr("transform","translate(955,0)").call(d3.axisRight(barY).tickValues(heatTicks).tickSize(9).tickFormat(""));
barAxis.select(".domain").remove();barAxis.selectAll("line").attr("stroke","#000");
svg.append("g").selectAll("text").data(heatTicks).join("text")
  .text(d=>String(d).replace("-","\u2212"))
  .attr("x",974).attr("y",d=>barY(d)+5.5)
  .attr("font-family","'Liberation Sans',Arial,sans-serif").attr("font-size",15).attr("fill","#111");
</script></body></html>
